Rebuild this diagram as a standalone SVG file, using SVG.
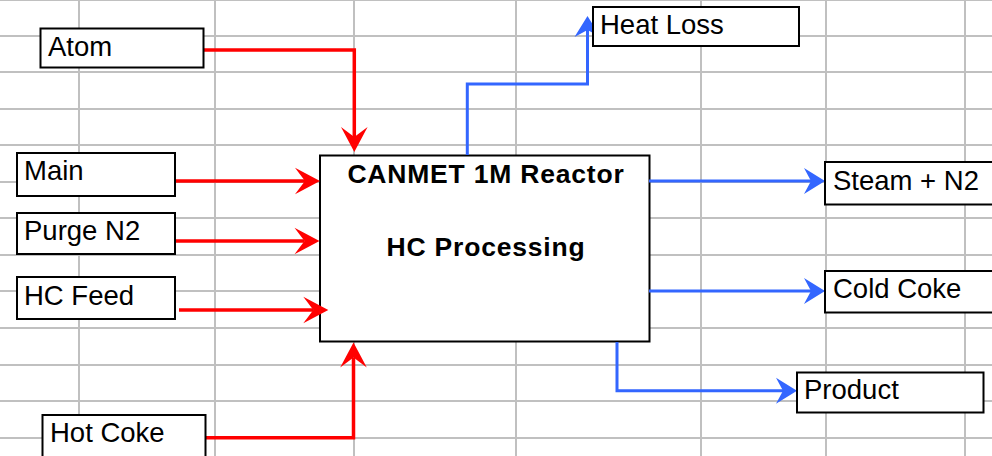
<svg xmlns="http://www.w3.org/2000/svg" width="992" height="456" viewBox="0 0 992 456">
<style>
.grid line{stroke:#C0C0C0;stroke-width:2}
.box{fill:#FFFFFF;stroke:#000000;stroke-width:2}
.lbl{font-family:"Liberation Sans",Arial,sans-serif;font-size:27.5px;fill:#000000}
.ttl{font-family:"Liberation Sans",Arial,sans-serif;font-size:26.5px;font-weight:bold;letter-spacing:0.8px;fill:#000000;text-anchor:middle}
.red{fill:none;stroke:#FF0000;stroke-width:3.5;stroke-linejoin:miter}
.blue{fill:none;stroke:#3366FF;stroke-width:3;stroke-linejoin:miter}
</style>
<defs>
<marker id="ar" markerUnits="userSpaceOnUse" viewBox="-12 -15 30 30" refX="0" refY="0" markerWidth="30" markerHeight="30" orient="auto">
<path d="M15,0 L-10,-13.3 L0,0 L-10,13.3 Z" fill="#FF0000"/>
</marker>
<marker id="ab" markerUnits="userSpaceOnUse" viewBox="-12 -15 30 30" refX="0" refY="0" markerWidth="30" markerHeight="30" orient="auto">
<path d="M14,0 L-7,-13 L0,0 L-7,13 Z" fill="#3366FF"/>
</marker>
</defs>
<rect x="0" y="0" width="992" height="456" fill="#FFFFFF"/>
<g class="grid">
<line x1="79" y1="0" x2="79" y2="456"/>
<line x1="215" y1="0" x2="215" y2="456"/>
<line x1="354" y1="0" x2="354" y2="456"/>
<line x1="516" y1="0" x2="516" y2="456"/>
<line x1="701" y1="0" x2="701" y2="456"/>
<line x1="826" y1="0" x2="826" y2="456"/>
<line x1="965" y1="0" x2="965" y2="456"/>
<line x1="0" y1="0" x2="992" y2="0"/>
<line x1="0" y1="36" x2="992" y2="36"/>
<line x1="0" y1="72" x2="992" y2="72"/>
<line x1="0" y1="109" x2="992" y2="109"/>
<line x1="0" y1="145" x2="992" y2="145"/>
<line x1="0" y1="182" x2="992" y2="182"/>
<line x1="0" y1="218" x2="992" y2="218"/>
<line x1="0" y1="255" x2="992" y2="255"/>
<line x1="0" y1="291" x2="992" y2="291"/>
<line x1="0" y1="328" x2="992" y2="328"/>
<line x1="0" y1="365" x2="992" y2="365"/>
<line x1="0" y1="401" x2="992" y2="401"/>
<line x1="0" y1="438" x2="992" y2="438"/>
</g>
<g id="reactor">
<rect class="box" x="320" y="155.5" width="329.5" height="186"/>
<text class="ttl" x="486" y="182.5">CANMET 1M Reactor</text>
<text class="ttl" x="486" y="256">HC Processing</text>
</g>
<g id="connectors">
<path class="red" d="M203,50 H354.3 V137" marker-end="url(#ar)"/>
<path class="red" d="M175,181 H305" marker-end="url(#ar)"/>
<path class="red" d="M175,241 H304.5" marker-end="url(#ar)"/>
<path class="red" d="M179,310 H313.3" marker-end="url(#ar)"/>
<path class="red" d="M205.7,437.7 H353.5 V357.5" marker-end="url(#ar)"/>
<path class="blue" d="M467.3,155 V84 H587.5 V30" marker-end="url(#ab)"/>
<path class="blue" d="M649,181 H811" marker-end="url(#ab)"/>
<path class="blue" d="M649,291 H811" marker-end="url(#ab)"/>
<path class="blue" d="M617,342 V390.7 H783" marker-end="url(#ab)"/>
</g>
<g id="atom">
<rect class="box" x="40.5" y="28.5" width="163" height="39"/>
<text class="lbl" x="48" y="56">Atom</text>
</g>
<g id="main">
<rect class="box" x="17" y="153" width="158" height="43"/>
<text class="lbl" x="24" y="180">Main</text>
</g>
<g id="purge-n2">
<rect class="box" x="17" y="213" width="158" height="41"/>
<text class="lbl" x="24" y="239.5">Purge N2</text>
</g>
<g id="hc-feed">
<rect class="box" x="17" y="277" width="158" height="42"/>
<text class="lbl" x="24" y="305">HC Feed</text>
</g>
<g id="hot-coke">
<rect class="box" x="42.5" y="415" width="163" height="50"/>
<text class="lbl" x="50" y="442">Hot Coke</text>
</g>
<g id="heat-loss">
<rect class="box" x="593" y="7" width="206" height="39"/>
<text class="lbl" x="600" y="33.5">Heat Loss</text>
</g>
<g id="steam-n2">
<rect class="box" x="825" y="162" width="180" height="42.5"/>
<text class="lbl" x="833" y="189.5">Steam + N2</text>
</g>
<g id="cold-coke">
<rect class="box" x="825" y="271" width="180" height="41.5"/>
<text class="lbl" x="833" y="298">Cold Coke</text>
</g>
<g id="product">
<rect class="box" x="797" y="372.5" width="186.5" height="40"/>
<text class="lbl" x="804" y="399">Product</text>
</g>
</svg>
